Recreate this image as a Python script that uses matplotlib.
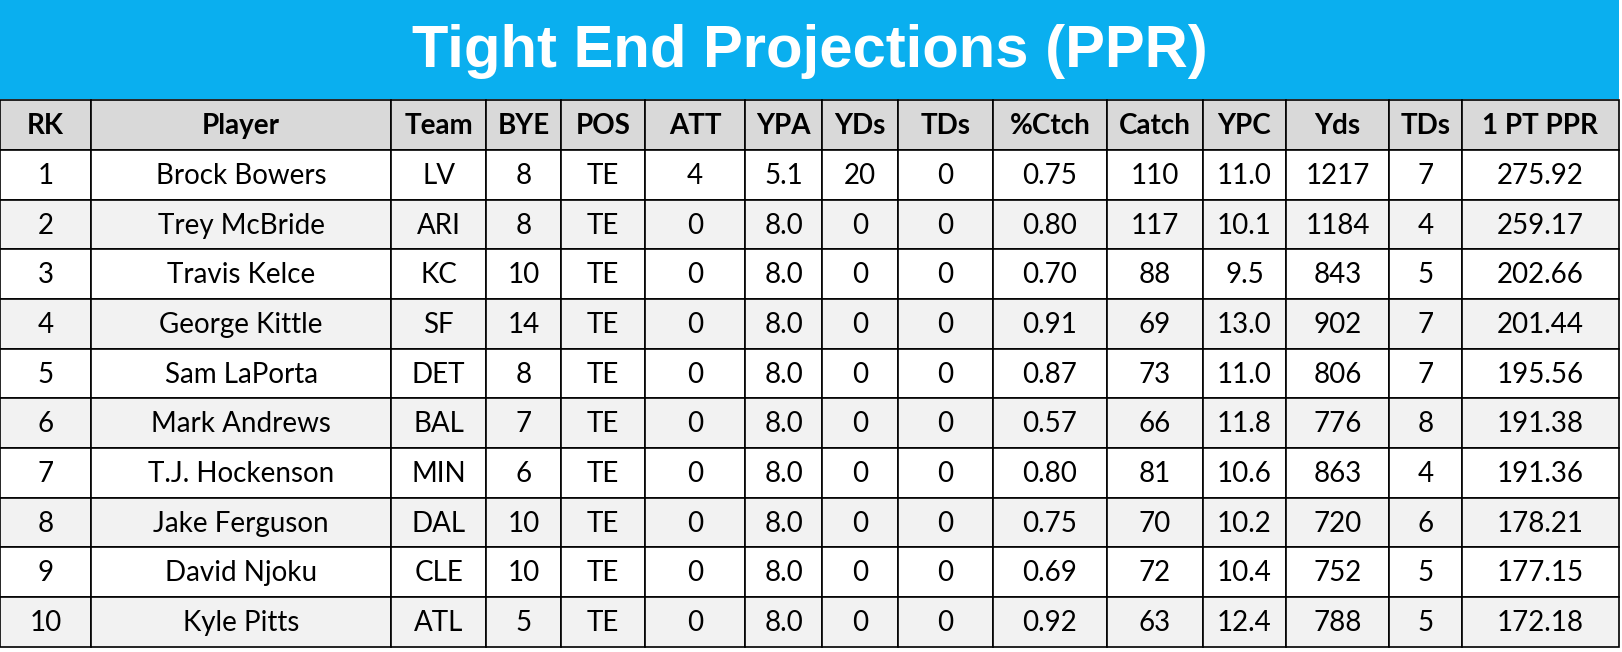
import matplotlib
matplotlib.use("Agg")
import matplotlib.pyplot as plt
from matplotlib.patches import Rectangle

title = "Tight End Projections (PPR)"
headers = ["RK","Player","Team","BYE","POS","ATT","YPA","YDs","TDs","%Ctch","Catch","YPC","Yds","TDs","1 PT PPR"]
rk = ["1","2","3","4","5","6","7","8","9","10"]
players = ["Brock Bowers","Trey McBride","Travis Kelce","George Kittle","Sam LaPorta","Mark Andrews","T.J. Hockenson","Jake Ferguson","David Njoku","Kyle Pitts"]
teams = ["LV","ARI","KC","SF","DET","BAL","MIN","DAL","CLE","ATL"]
bye = ["8","8","10","14","8","7","6","10","10","5"]
pos = ["TE"]*10
att = ["4","0","0","0","0","0","0","0","0","0"]
ypa = ["5.1","8.0","8.0","8.0","8.0","8.0","8.0","8.0","8.0","8.0"]
ydsp = ["20","0","0","0","0","0","0","0","0","0"]
tdsp = ["0"]*10
pctc = ["0.75","0.80","0.70","0.91","0.87","0.57","0.80","0.75","0.69","0.92"]
catch = ["110","117","88","69","73","66","81","70","72","63"]
ypc = ["11.0","10.1","9.5","13.0","11.0","11.8","10.6","10.2","10.4","12.4"]
yds = ["1217","1184","843","902","806","776","863","720","752","788"]
tds = ["7","4","5","7","7","8","4","6","5","5"]
ppr = ["275.92","259.17","202.66","201.44","195.56","191.38","191.36","178.21","177.15","172.18"]
cols = [rk,players,teams,bye,pos,att,ypa,ydsp,tdsp,pctc,catch,ypc,yds,tds,ppr]

edges = [0,88,378,470,542,624,720,795,868,960,1070,1163,1243,1343,1413,1565]
W, H = 1568, 630
fig = plt.figure(figsize=(16.22,6.52), dpi=100)
ax = fig.add_axes([0,0,1,1])
ax.set_xlim(0,W); ax.set_ylim(H,0); ax.axis("off")

ax.add_patch(Rectangle((0,0),1565,96,facecolor="#0AAFEF",edgecolor="none"))
ax.text(1565/2,50,title,ha="center",va="center",color="white",fontsize=43,fontweight="bold",family="Liberation Sans")

top=97; rh=48
font="Lato"
for j,h in enumerate(headers):
    x0,x1=edges[j],edges[j+1]
    ax.add_patch(Rectangle((x0,top),x1-x0,rh,facecolor="#D9D9D9",edgecolor="black",lw=1.2))
    ax.text((x0+x1)/2,top+rh/2+1,h,ha="center",va="center",fontsize=20,fontweight="bold",family=font)
for i in range(10):
    y=top+rh*(i+1)
    fc="white" if i%2==0 else "#F2F2F2"
    for j,c in enumerate(cols):
        x0,x1=edges[j],edges[j+1]
        ax.add_patch(Rectangle((x0,y),x1-x0,rh,facecolor=fc,edgecolor="black",lw=1.2))
        ax.text((x0+x1)/2,y+rh/2+1,c[i],ha="center",va="center",fontsize=20,family=font)
fig.savefig("out.png",dpi=100)
